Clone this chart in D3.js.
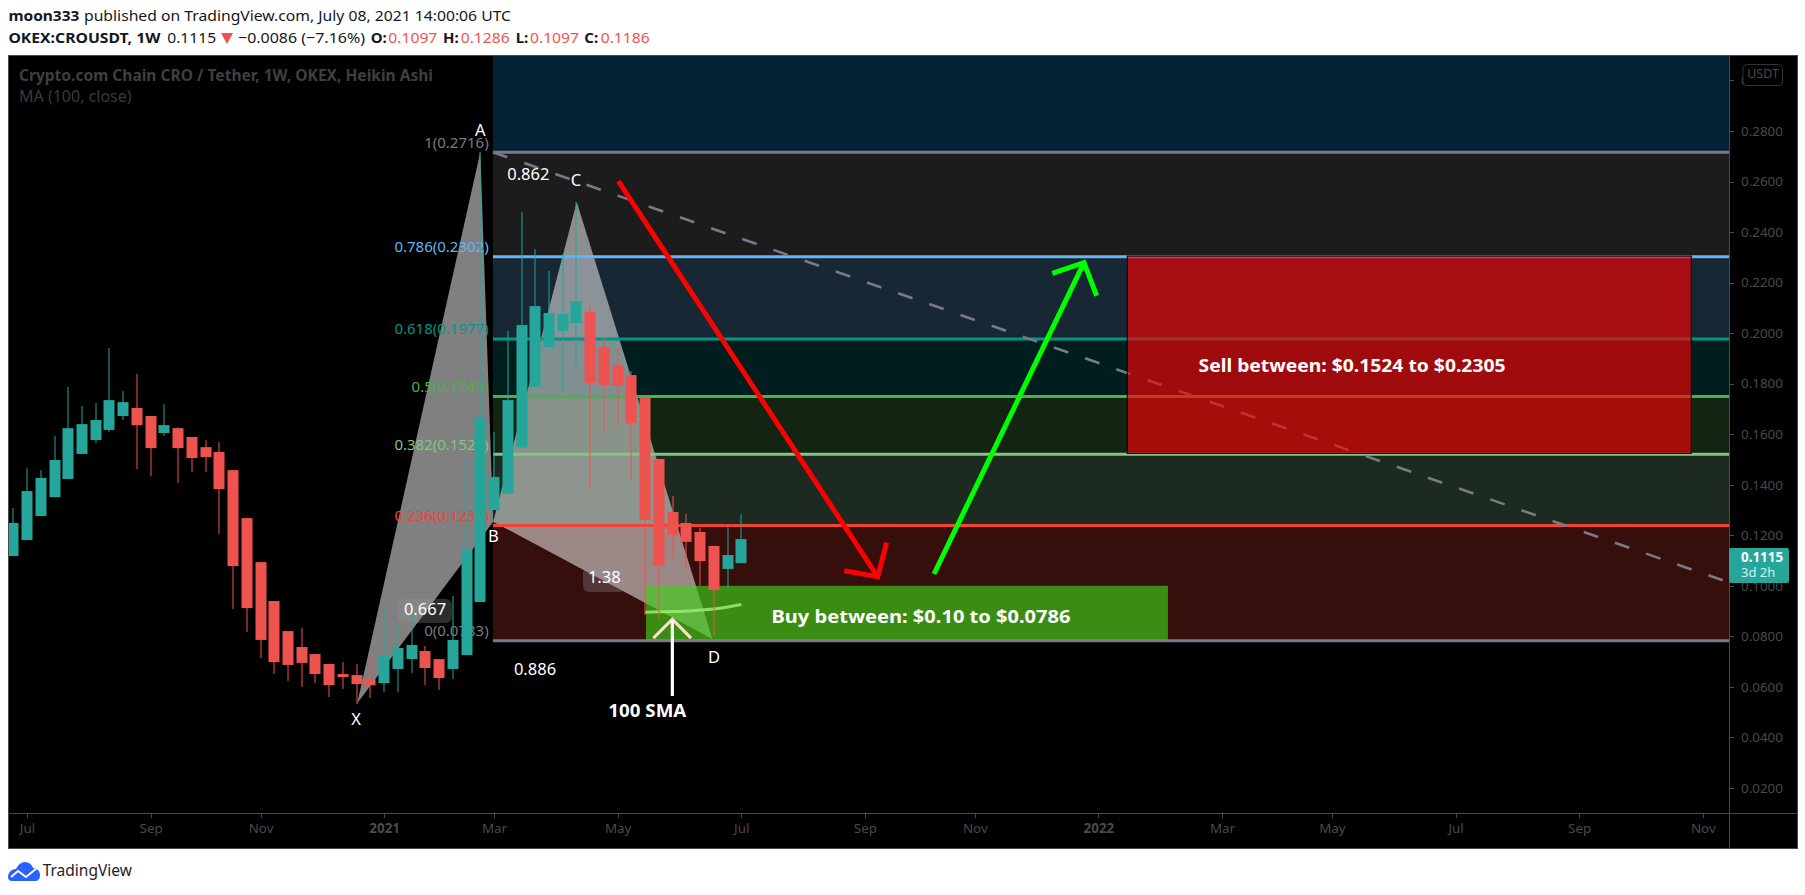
<!DOCTYPE html>
<html><head><meta charset="utf-8">
<script src="https://cdn.jsdelivr.net/npm/d3@7/dist/d3.min.js"></script>
<style>html,body{margin:0;padding:0;background:#fff;overflow:hidden}svg{display:block}text{font-family:"Noto Sans",sans-serif}</style>
</head><body><script>
// ---- candle data (Heikin Ashi, weekly) ----
const opens=[.1118,.1181,.1276,.1351,.1423,.1522,.1577,.1617,.1672,.1704,.1672,.1605,.1624,.1589,.1549,.1530,.1458,.1268,.1094,.0940,.0821,.0758,.0730,.0691,.0651,.0647,.0631,.0615,.0671,.0710,.0742,.0710,.0671,.0726,.0936,.1300,.1365,.1547,.1787,.1945,.2009,.2040,.2084,.1945,.1874,.1834,.1743,.1502,.1292,.1249,.1213,.1158,.1067,.1090];
const closes=[.1249,.1375,.1427,.1498,.1624,.1640,.1656,.1735,.1727,.1636,.1545,.1636,.1545,.1506,.1510,.1383,.1078,.0912,.0786,.0698,.0687,.0695,.0651,.0607,.0639,.0611,.0607,.0726,.0754,.0766,.0675,.0635,.0786,.1146,.1668,.1431,.1735,.2032,.2107,.2080,.2076,.2127,.1803,.1795,.1791,.1644,.1261,.1080,.1201,.1174,.1098,.0984,.1122,.1185];
const highs=[.1308,.1466,.1458,.1593,.1787,.1712,.1723,.1941,.1771,.1838,.1672,.1719,.1628,.1589,.1577,.1569,.1458,.1268,.1094,.0940,.0821,.0833,.0730,.0691,.0698,.0691,.0714,.0924,.0841,.0891,.0762,.0710,.0960,.1510,.2717,.1609,.2009,.2479,.2333,.2246,.2313,.2519,.2107,.1985,.1941,.1850,.1743,.1502,.1356,.1284,.1229,.1158,.1237,.1284];
const lows=[.1118,.1181,.1276,.1351,.1423,.1522,.1565,.1609,.1656,.1462,.1434,.1593,.1407,.1450,.1450,.1205,.0908,.0817,.0714,.0651,.0623,.0600,.0615,.0560,.0592,.0532,.0556,.0580,.0580,.0655,.0607,.0588,.0631,.0726,.0936,.1300,.1365,.1547,.1787,.1945,.1767,.1870,.1383,.1609,.1637,.1419,.0885,.0869,.1110,.1067,.1000,.0802,.0988,.1090];
// ---- 100 SMA ----
const maIndex=[46,47,48,49,50,51,52,53];
const maValues=[.0896,.0897,.0898,.0900,.0904,.0908,.0916,.0926];
// ---- axes ----
const priceTicks=[.30,.28,.26,.24,.22,.20,.18,.16,.14,.12,.10,.08,.06,.04,.02];
const timeTickIndex=[1,10,18,27,35,44,53,62,70,79,88,96,105,114,123];
const timeTickLabels=["Jul","Sep","Nov","2021","Mar","May","Jul","Sep","Nov","2022","Mar","May","Jul","Sep","Nov"];
// ---- fib retracement ----
const fibRatios=["1","0.786","0.618","0.5","0.382","0.236","0"];
const fibPrices=[.2716,.2302,.1977,.1749,.1521,.1239,.0783];
const fibLabelPrices=["0.2716","0.2302","0.1977","0.1749","0.1521","0.1239","0.0783"];
const fibLineColors=["#787b86","#64b5f6","#009688","#4caf50","#81c784","#f44336","#787b86"];
const fibBandColors=["#1c1c1d","#172733","#011e1e","#132412","#1d2a1f","#360f0d"];
const topBandColor="#052135";
// ---- XABCD pattern ----
const patternX=[25.04,.0535], patternA=[34,.2717], patternB=[34.94,.1254], patternC=[41.02,.2519], patternD=[50.9,.0790];
// ---- drawings ----
const trendLine=[[34.92,.2716],[124.45,.1022]];
const redArrowShaft=[[44.05,.2602],[62.93,.1036]];
const redArrowHead=[[60.5,.1060],[62.93,.1036],[63.58,.1171]];
const greenArrowShaft=[[67.03,.1047],[77.95,.2279]];
const greenArrowHead=[[75.64,.2237],[77.95,.2279],[78.87,.2148]];
const whiteArrowShaft=[[47.98,.0564],[47.98,.0862]];
const whiteArrowHead=[[46.6,.0793],[47.98,.0868],[49.34,.0793]];
const sellZone={i0:81.1,i1:122.16,p0:.2305,p1:.1524};
const buyZone={i0:46.06,i1:84.06,p0:.10,p1:.0786};
const fibStartIndex=34.92;

const W=1805,H=895,L=8,T=55,R=1729,B=813,OR=1797,OB=848;
const x=d3.scaleLinear().domain([0,53]).range([13.3,741.3]);
const y=d3.scaleLinear().domain([.28,.02]).range([131,788]);
const pt=d=>[x(d[0]),y(d[1])];
const line=d3.line().x(d=>x(d[0])).y(d=>y(d[1]));
const svg=d3.select("body").append("svg").attr("width",W).attr("height",H);
svg.append("rect").attr("width",W).attr("height",H).attr("fill","#fff");
svg.append("rect").attr("x",L).attr("y",T).attr("width",OR-L).attr("height",OB-T).attr("fill","#000");
svg.append("defs").append("clipPath").attr("id","plot").append("rect").attr("x",L).attr("y",T).attr("width",R-L).attr("height",B-T);
const g=svg.append("g").attr("clip-path","url(#plot)");
const fx=x(fibStartIndex);
// bands
g.append("rect").attr("x",fx).attr("y",T).attr("width",R-fx).attr("height",y(fibPrices[0])-T).attr("fill",topBandColor);
g.selectAll(".band").data(fibBandColors).join("rect").attr("x",fx).attr("width",R-fx)
 .attr("y",(d,i)=>y(fibPrices[i])).attr("height",(d,i)=>y(fibPrices[i+1])-y(fibPrices[i])).attr("fill",d=>d);
// pattern
const tri=[[patternX,patternA,patternB],[patternB,patternC,patternD]];
g.selectAll(".tri").data(tri).join("path").attr("d",d=>"M"+d.map(pt).join("L")+"Z").attr("fill","rgba(255,255,255,.5)");
// fib lines
g.selectAll(".fibl").data(fibPrices).join("line").attr("x1",fx).attr("x2",R).attr("y1",d=>y(d)).attr("y2",d=>y(d))
 .attr("stroke",(d,i)=>fibLineColors[i]).attr("stroke-width",3);
// dashed trend
g.append("path").attr("d",line(trendLine)).attr("fill","none").attr("stroke","#787b86").attr("stroke-width",2.6).attr("stroke-dasharray","15.2,17.8");
// zones
const zone=(z,f,s)=>g.append("rect").attr("x",x(z.i0)).attr("width",x(z.i1)-x(z.i0)).attr("y",y(z.p0)).attr("height",y(z.p1)-y(z.p0)).attr("fill",f).attr("stroke",s).attr("stroke-width",1);
zone(buyZone,"rgba(63,207,23,.65)","none");
zone(sellZone,"rgba(246,2,4,.65)","#000");
// fib labels
g.selectAll(".fibt").data(fibRatios).join("text").attr("x",488.7).attr("y",(d,i)=>y(fibPrices[i])-8.5).attr("text-anchor","end").attr("dominant-baseline","middle")
 .attr("font-size",15).attr("fill",(d,i)=>fibLineColors[i]).text((d,i)=>`${d}(${fibLabelPrices[i]})`);
// bubbles
const bubble=(bx,by,bw,bh,t,cx,cy)=>{g.append("rect").attr("x",bx).attr("y",by).attr("width",bw).attr("height",bh).attr("rx",6).attr("fill","rgba(150,150,150,.3)");
 g.append("text").attr("x",cx).attr("y",cy).attr("text-anchor","middle").attr("dominant-baseline","middle").attr("font-size",16.5).attr("fill","#fff").text(t);};
bubble(398,599,54,24,"0.667",425,611);
bubble(583,567,43,25,"1.38",604.3,579);
// MA
g.append("path").attr("d",d3.line().x(d=>x(d)).y((d,i)=>y(maValues[i])).curve(d3.curveMonotoneX)(maIndex)).attr("fill","none").attr("stroke","rgba(150,240,110,.85)").attr("stroke-width",3);
// candles
const candles=opens.map((o,i)=>({i,o,c:closes[i],h:highs[i],l:lows[i],up:closes[i]>=o}));
const col=d=>d.up?"#26a69a":"#ef5350";
g.selectAll(".wick").data(candles).join("rect").attr("x",d=>Math.round(x(d.i))-.5).attr("width",1).attr("y",d=>y(d.h)).attr("height",d=>y(d.l)-y(d.h)).attr("fill",col);
g.selectAll(".body").data(candles).join("rect").attr("x",d=>Math.round(x(d.i))-5.5).attr("width",11).attr("y",d=>y(Math.max(d.o,d.c))).attr("height",d=>Math.abs(y(d.o)-y(d.c))).attr("fill",col);
// arrows
const arrow=(data,c,w,j)=>g.append("path").attr("d",line(data)).attr("fill","none").attr("stroke",c).attr("stroke-width",w).attr("stroke-linejoin",j||"miter");
arrow(redArrowShaft,"#ff0000",5);arrow(redArrowHead,"#ff0000",5);
arrow(greenArrowShaft,"#00ff00",5);arrow(greenArrowHead,"#00ff00",5);
arrow(whiteArrowHead,"#fbdccd",3.2);arrow(whiteArrowShaft,"#ffffff",3.2);
// labels
const label=(t,cx,cy,fs,w,c,len)=>{const e=g.append("text").attr("x",cx).attr("y",cy).attr("text-anchor","middle").attr("dominant-baseline","middle").attr("font-size",fs).attr("font-weight",w||400).attr("fill",c||"#fff").text(t);if(len)e.attr("textLength",len).attr("lengthAdjust","spacingAndGlyphs");};
[["A",480.3,131.7],["B",493.3,537.7],["C",576,182],["D",714,658.7],["X",356,720.7],["0.862",528.3,175.7],["0.886",535,670.7]].forEach(d=>label(d[0],d[1],d[2],16.5));
label("100 SMA",647.3,712,18,700,"#fff",78);
label("Buy between: $0.10 to $0.0786",921,618,18.5,700,"#fff",299);
label("Sell between: $0.1524 to $0.2305",1352,367,18.5,700,"#fff",307);
// title inside
g.append("text").attr("x",19).attr("y",76.7).attr("dominant-baseline","middle").attr("font-size",16).attr("font-weight",700).attr("fill","#3f3f3f").attr("textLength",414).attr("lengthAdjust","spacingAndGlyphs").text("Crypto.com Chain CRO / Tether, 1W, OKEX, Heikin Ashi");
g.append("text").attr("x",19).attr("y",97.7).attr("dominant-baseline","middle").attr("font-size",16).attr("fill","#3a3a3a").text("MA (100, close)");
// axes
const axisCol="#4a4a4a";
const yAxis=d3.axisRight(y).tickValues(priceTicks).tickFormat(d3.format(".4f")).tickSize(5).tickPadding(7);
const ya=svg.append("g").attr("transform",`translate(${R},0)`).call(yAxis);
ya.select(".domain").remove();
ya.selectAll("line").attr("stroke",axisCol).attr("shape-rendering","crispEdges");
ya.selectAll("text").attr("fill",axisCol).attr("font-size",13.4).attr("font-family",'"Noto Sans",sans-serif');
const xAxis=d3.axisBottom(x).tickValues(timeTickIndex).tickFormat(d=>timeTickLabels[timeTickIndex.indexOf(d)]).tickSize(5).tickPadding(5);
const xa=svg.append("g").attr("transform",`translate(0,${B})`).call(xAxis);
xa.select(".domain").remove();
xa.selectAll("line").attr("stroke",axisCol).attr("shape-rendering","crispEdges");
xa.selectAll("text").attr("fill",axisCol).attr("font-size",13.4).attr("font-family",'"Noto Sans",sans-serif')
  .attr("font-weight",d=>/^20/.test(timeTickLabels[timeTickIndex.indexOf(d)])?700:400);
// frame
const fr=svg.append("g").attr("stroke",axisCol).attr("shape-rendering","crispEdges").attr("fill","none");
fr.append("rect").attr("x",L).attr("y",T).attr("width",OR-L).attr("height",OB-T);
fr.append("line").attr("x1",R).attr("x2",R).attr("y1",T).attr("y2",OB);
fr.append("line").attr("x1",L).attr("x2",OR).attr("y1",B).attr("y2",B);
// currency box
svg.append("rect").attr("x",1743).attr("y",64.5).attr("width",39.5).attr("height",21).attr("rx",4).attr("fill","#000").attr("stroke","#333");
svg.append("text").attr("x",1763).attr("y",75).attr("text-anchor","middle").attr("dominant-baseline","middle").attr("font-size",12.5).attr("fill",axisCol).text("USDT");
// last price
svg.append("rect").attr("x",R).attr("y",548).attr("width",60).attr("height",35).attr("rx",2).attr("fill","#26a69a");
svg.append("text").attr("x",1741).attr("y",558).attr("dominant-baseline","middle").attr("font-size",13.4).attr("font-weight",700).attr("fill","#fff").text("0.1115");
svg.append("text").attr("x",1741).attr("y",574).attr("dominant-baseline","middle").attr("font-size",13).attr("fill","#d4eeeb").text("3d 2h");
// header
const hdr=(t,hx,hy,w,c,len)=>{const e=svg.append("text").attr("x",hx).attr("y",hy).attr("dominant-baseline","middle").attr("font-size",15).attr("font-weight",w).attr("fill",c).text(t);if(len)e.attr("textLength",len).attr("lengthAdjust","spacingAndGlyphs");};
const ink="#131722",red="#ef5350";
hdr("moon333",8.4,17,700,ink,71);
hdr("published on TradingView.com, July 08, 2021 14:00:06 UTC",84,17,400,ink,427);
hdr("OKEX:CROUSDT, 1W",8.4,38.5,700,ink,152);
hdr("0.1115",167.2,38.5,400,ink,49);
hdr("\u22120.0086 (\u22127.16%)",238,38.5,400,ink,127);
svg.append("path").attr("d","M221 33h12l-6 11z").attr("fill",red);
[["O:",370.7,"0.1097",388.3],["H:",443,"0.1286",460.7],["L:",515.7,"0.1097",530],["C:",584.3,"0.1186",600.7]].forEach(d=>{hdr(d[0],d[1],38.5,700,ink);hdr(d[2],d[3],38.5,400,red,49);});
// logo
const lg=svg.append("g");
lg.append("path").attr("d","M8 877c0-5 4-8 8-8 2-4 5-7 9-7 4 0 7 3 8 6 4 0 7 3 7 7 0 4-2 6-5 6H12c-3 0-4-2-4-4z").attr("fill","#2962ff");
lg.append("path").attr("d","M11 877l7-6 8 6 11-9").attr("fill","none").attr("stroke","#fff").attr("stroke-width",1.8);
svg.append("text").attr("x",42.7).attr("y",871.5).attr("dominant-baseline","middle").attr("font-size",15.5).attr("fill","#1e222d").text("TradingView");
</script></body></html>
